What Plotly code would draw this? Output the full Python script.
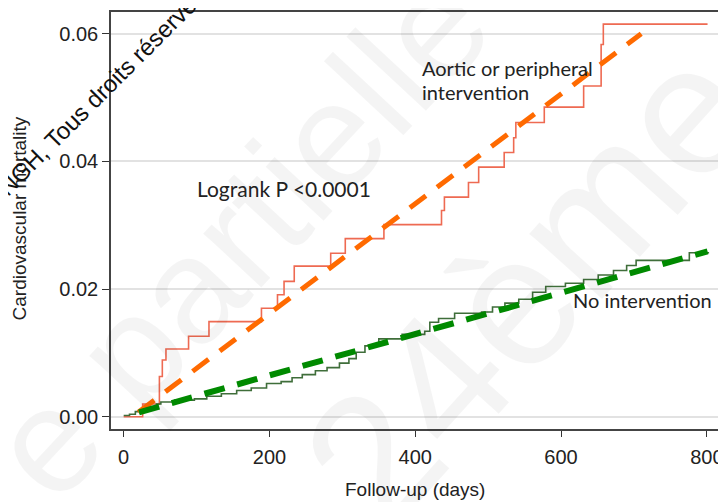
import plotly.graph_objects as go

# ---- data ----
days_aortic = [0, 26, 49, 53, 58, 89, 117, 189, 211, 220, 234, 284, 304, 357, 436, 440,
               473, 487, 522, 535, 538, 577, 631, 655, 658, 801]
mort_aortic = [0.0, 0.0020, 0.0063, 0.0089, 0.0106, 0.0126, 0.0149, 0.0170, 0.0191, 0.0212,
               0.0236, 0.0256, 0.0279, 0.0301, 0.0323, 0.0344, 0.0367, 0.0391, 0.0414, 0.0437,
               0.0461, 0.0485, 0.0518, 0.0583, 0.0615, 0.0615]

days_none = [0, 8, 16, 26, 36, 45, 51, 70, 97, 114, 134, 155, 175, 196, 216, 231, 245, 263,
             279, 296, 309, 319, 331, 350, 382, 413, 420, 432, 454, 491, 506, 523, 542, 561,
             579, 606, 631, 651, 672, 690, 703, 772, 776, 802]
mort_none = [0.0002, 0.0004, 0.0008, 0.0012, 0.0016, 0.0020, 0.0023, 0.0026, 0.0028, 0.0032,
             0.0036, 0.0041, 0.0045, 0.0052, 0.0055, 0.0061, 0.0066, 0.0072, 0.0077, 0.0084,
             0.0091, 0.0101, 0.0111, 0.0122, 0.0129, 0.0134, 0.0148, 0.0154, 0.0162, 0.0164,
             0.0172, 0.0178, 0.0184, 0.0195, 0.0204, 0.0209, 0.0215, 0.0222, 0.0229, 0.0237,
             0.0245, 0.0245, 0.0257, 0.0258]

trend_aortic_days = [20, 710]
trend_aortic_vals = [0.0007, 0.0600]
trend_none_days = [21, 801]
trend_none_vals = [0.0007, 0.0259]

x_ticks = [0, 200, 400, 600, 800]
y_ticks = [0.00, 0.02, 0.04, 0.06]
y_tick_labels = ["0.00", "0.02", "0.04", "0.06"]

# ---- layout helpers (reference pixel -> paper) ----
# the page body has an 8px margin, so the figure is drawn 8px smaller and shifted
OFF = 8
W, H = 726 - OFF, 502 - OFF
PL, PR, PT, PB = 111.3 - OFF, 721.0 - OFF, 10.7 - OFF, 429.3 - OFF


def px(x):
    return (x - OFF - PL) / (PR - PL)


def py(y):
    return (PB - (y - OFF)) / (PB - PT)


fig = go.Figure()

fig.add_trace(go.Scatter(x=days_aortic, y=mort_aortic, mode="lines", line_shape="hv",
                         line=dict(color="#EE6A52", width=1.6), hoverinfo="skip"))
fig.add_trace(go.Scatter(x=days_none, y=mort_none, mode="lines", line_shape="hv",
                         line=dict(color="#3F6E3A", width=1.6), hoverinfo="skip"))
fig.add_trace(go.Scatter(x=trend_aortic_days, y=trend_aortic_vals, mode="lines",
                         line=dict(color="#FF6A00", width=5, dash="20px,14px"), hoverinfo="skip"))
fig.add_trace(go.Scatter(x=trend_none_days, y=trend_none_vals, mode="lines",
                         line=dict(color="#008A00", width=6, dash="21px,13px"), hoverinfo="skip"))

label_font = dict(family="Lato, Open Sans, sans-serif", size=20, color="#222222")
logrank_font = dict(family="Lato, Open Sans, sans-serif", size=21, color="#222222")
axis_font = dict(family="Liberation Sans, Arial, sans-serif", size=19, color="#222222")
wm_font = "Liberation Sans, Arial"


def note(x, y, text, font, angle=0, xa="center", ya="middle"):
    return dict(x=px(x), y=py(y), xref="paper", yref="paper", text=text, showarrow=False,
                xanchor=xa, yanchor=ya, textangle=angle, font=font)


annotations = [
    # faint watermarks
    note(240, 235, "e partielle", dict(family=wm_font, size=150, color="rgba(0,0,0,0.045)"), -47),
    note(530, 285, "24ème", dict(family=wm_font, size=185, color="rgba(0,0,0,0.045)"), -48),
    # chart labels
    note(196, 188, "Logrank P <0.0001", logrank_font, xa="left"),
    note(421, 67, "Aortic or peripheral", label_font, xa="left"),
    note(421, 91, "intervention", label_font, xa="left"),
    note(573, 300, "No intervention", label_font, xa="left"),
    # axis titles
    note(416, 490, "Follow-up (days)", axis_font),
    note(20, 218, "Cardiovascular mortality", axis_font, angle=-90),
    # black overlay text
    note(102, 91, "NGH, Tous droits réservés",
         dict(family=wm_font, size=24, color="#111111"), angle=-45),
]

fig.update_layout(
    width=W, height=H,
    margin=dict(l=PL, r=W - PR, t=PT, b=H - PB, pad=0),
    paper_bgcolor="white", plot_bgcolor="white",
    showlegend=False,
    annotations=annotations,
)
fig.update_xaxes(range=[-17.4, 816.7], tickvals=x_ticks, ticks="outside", ticklen=6,
                 tickcolor="#333333", tickwidth=1.3, showgrid=False, zeroline=False,
                 showline=True, linecolor="#444444", linewidth=1.5, mirror=True,
                 tickfont=dict(family="Liberation Sans, Arial", size=20, color="#222222"),
                 ticklabelstandoff=3)
fig.update_yaxes(range=[-0.00192, 0.0634], tickvals=y_ticks, ticktext=y_tick_labels,
                 ticks="outside", ticklen=7, tickcolor="#333333", tickwidth=1.3,
                 showgrid=True, gridcolor="#E2E2E2", gridwidth=1.5, zeroline=False,
                 showline=True, linecolor="#444444", linewidth=1.5, mirror=True,
                 tickfont=dict(family="Liberation Sans, Arial", size=20, color="#222222"))

fig.write_html("out.html")
